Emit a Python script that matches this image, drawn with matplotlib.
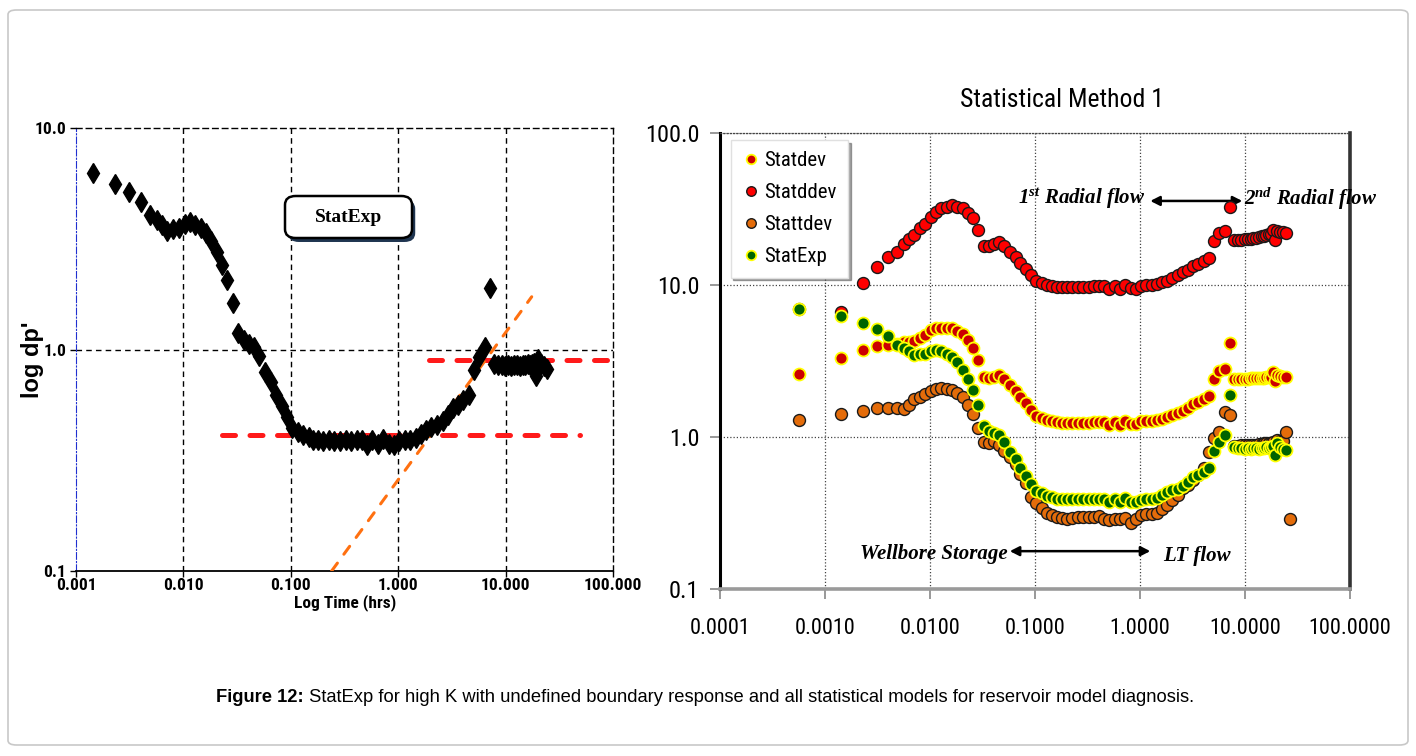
import numpy as np
import matplotlib
matplotlib.use('Agg')
import matplotlib.pyplot as plt
from matplotlib.patches import FancyBboxPatch
from matplotlib.ticker import FixedLocator, FixedFormatter, NullLocator

# fonts
NARROW = ['Roboto Condensed', 'Liberation Sans']
plt.rcParams['mathtext.fontset'] = 'custom'
plt.rcParams['mathtext.it'] = 'Liberation Serif:bold:italic'
plt.rcParams['mathtext.rm'] = 'Liberation Serif:bold:italic'
plt.rcParams['mathtext.bf'] = 'Liberation Serif:bold:italic'

#######################################
# Data
#######################################
time_hr = [
    0.00057, 0.00143, 0.00229, 0.00314, 0.00399, 0.00490, 0.00570, 0.00632, 0.00710, 0.00800,
    0.00905, 0.01025, 0.01140, 0.01280, 0.01445, 0.0162, 0.0182, 0.0204, 0.0229, 0.0257,
    0.0288, 0.0324, 0.0364, 0.0407, 0.0457, 0.0511, 0.0575, 0.0655, 0.0727, 0.0820,
    0.0920, 0.1027, 0.1157, 0.1305, 0.1466, 0.162, 0.180, 0.201, 0.227, 0.254,
    0.287, 0.324, 0.363, 0.411, 0.457, 0.509, 0.574, 0.644, 0.726, 0.821,
    0.914, 1.024, 1.149, 1.288, 1.455, 1.63, 1.82, 2.03, 2.28, 2.59,
    2.89, 3.22, 3.58, 4.04, 4.56, 5.11, 5.69, 6.43, 7.16, 7.8,
    8.5, 9.2, 9.9, 10.6, 11.3, 12.0, 12.8, 13.6, 14.4, 15.2,
    16.0, 16.8, 17.6, 18.4, 19.2, 20.0, 21.5, 23.0, 24.5, 26.6]

stat_exp = [
    7.0, 6.27, 5.6, 5.13, 4.64, 4.05, 3.83, 3.66, 3.44, 3.50,
    3.54, 3.68, 3.75, 3.66, 3.53, 3.35, 3.10, 2.76, 2.41, 2.05,
    1.62, 1.19, 1.10, 1.06, 1.03, 0.93, 0.795, 0.715, 0.623, 0.555,
    0.494, 0.444, 0.425, 0.410, 0.404, 0.392, 0.390, 0.388, 0.390, 0.388,
    0.388, 0.390, 0.388, 0.390, 0.390, 0.372, 0.390, 0.374, 0.395, 0.375,
    0.372, 0.386, 0.390, 0.392, 0.398, 0.417, 0.432, 0.447, 0.458, 0.475,
    0.504, 0.545, 0.560, 0.590, 0.625, 0.81, 0.925, 1.03, 1.90, 0.86,
    0.85, 0.85, 0.84, 0.85, 0.84, 0.85, 0.85, 0.84, 0.85, 0.85,
    0.86, 0.85, 0.86, 0.87, 0.76, 0.91, 0.86, 0.84, 0.82, np.nan]

stat_dev = [
    2.58, 3.30, 3.72, 3.97, 4.04, 4.09, 4.20, 4.24, 4.30, 4.46,
    4.69, 5.06, 5.19, 5.24, 5.24, 5.19, 5.00, 4.74, 4.33, 3.83,
    3.21, 2.48, 2.44, 2.48, 2.57, 2.39, 2.19, 2.01, 1.83, 1.67,
    1.50, 1.38, 1.34, 1.30, 1.28, 1.25, 1.24, 1.24, 1.245, 1.245,
    1.245, 1.245, 1.25, 1.26, 1.26, 1.20, 1.26, 1.20, 1.28, 1.21,
    1.21, 1.27, 1.27, 1.28, 1.29, 1.32, 1.36, 1.40, 1.43, 1.48,
    1.55, 1.64, 1.70, 1.79, 1.87, 2.40, 2.72, 2.79, 4.13, 2.40,
    2.41, 2.41, 2.42, 2.42, 2.43, 2.43, 2.44, 2.45, 2.45, 2.46,
    2.47, 2.48, 2.50, 2.69, 2.33, 2.56, 2.52, 2.50, 2.49, np.nan]

stat_ddev = [
    7.0, 6.67, 10.3, 13.2, 15.3, 16.5, 18.5, 20.1, 21.3, 23.6,
    25.2, 28.1, 30.3, 31.9, 32.7, 33.5, 32.7, 31.9, 29.9, 27.5,
    23.0, 18.1, 18.1, 18.5, 19.1, 18.1, 16.6, 15.3, 14.0, 12.7,
    11.6, 10.6, 10.3, 10.0, 9.85, 9.75, 9.75, 9.75, 9.75, 9.75,
    9.75, 9.75, 9.85, 9.85, 9.85, 9.42, 9.85, 9.42, 10.0, 9.5,
    9.42, 9.9, 10.0, 10.0, 10.15, 10.4, 10.6, 11.2, 11.6, 12.1,
    12.5, 13.3, 13.7, 14.4, 15.1, 19.5, 22.1, 22.7, 32.7, 19.8,
    19.8, 19.9, 20.0, 20.1, 20.2, 20.3, 20.5, 20.7, 20.9, 21.1,
    21.3, 21.5, 21.8, 23.0, 19.8, 22.5, 22.3, 22.2, 21.9, np.nan]

stat_tdev = [
    1.29, 1.42, 1.48, 1.56, 1.56, 1.56, 1.52, 1.63, 1.77, 1.84,
    1.92, 2.01, 2.08, 2.11, 2.08, 2.04, 1.96, 1.83, 1.63, 1.41,
    1.14, 0.93, 0.91, 0.94, 0.89, 0.81, 0.735, 0.66, 0.571, 0.495,
    0.405, 0.368, 0.340, 0.315, 0.307, 0.299, 0.292, 0.289, 0.292, 0.296,
    0.296, 0.296, 0.299, 0.302, 0.287, 0.284, 0.287, 0.287, 0.292, 0.270,
    0.287, 0.307, 0.311, 0.310, 0.318, 0.334, 0.357, 0.385, 0.415, 0.459,
    0.483, 0.521, 0.562, 0.622, 0.80, 0.98, 1.08, 1.47, 1.40, 0.87,
    0.87, 0.88, 0.88, 0.88, 0.89, 0.89, 0.89, 0.90, 0.90, 0.91,
    0.91, 0.92, 0.92, 0.93, 0.85, 0.95, 0.94, 0.94, 1.08, 0.29]

# straight-line fits drawn on the left panel
radial1_t = [0.0229, 49.0]
radial1_dp = [0.41, 0.41]
radial2_t = [1.95, 100.0]
radial2_dp = [0.90, 0.90]
wbs_t = [0.24, 17.5]
wbs_dp = [0.10, 1.73]

left_xticks = [0.001, 0.01, 0.1, 1, 10, 100]
left_xlabels = ['0.001', '0.010', '0.100', '1.000', '10.000', '100.000']
left_yticks = [0.1, 1, 10]
left_ylabels = ['0.1', '1.0', '10.0']
right_xticks = [0.0001, 0.001, 0.01, 0.1, 1, 10, 100]
right_xlabels = ['0.0001', '0.0010', '0.0100', '0.1000', '1.0000', '10.0000', '100.0000']
right_yticks = [0.1, 1, 10, 100]
right_ylabels = ['0.1', '1.0', '10.0', '100.0']

W, H = 1416., 756.

def box(x0, y0, x1, y1):
    # pixel box (top-left origin) -> figure fraction rect
    return [x0 / W, 1 - y1 / H, (x1 - x0) / W, (y1 - y0) / H]

fig = plt.figure(figsize=(W / 100, H / 100), dpi=100)
fig.patch.set_facecolor('white')

# outer rounded frame
fig.add_artist(FancyBboxPatch((8 / W, 11 / H), 1400 / W, 735 / H,
                              boxstyle='round,pad=0,rounding_size=0.006',
                              transform=fig.transFigure, fc='none',
                              ec='#c8c8c8', lw=1.2))

#######################################
# Left panel
#######################################
a = fig.add_axes(box(76, 128, 613, 571))
a.set_xscale('log')
a.set_yscale('log')
a.set_xlim(0.001, 100)
a.set_ylim(0.1, 10)

dash = (0, (4, 3))
for xv in left_xticks[1:-1]:
    a.axvline(xv, color='black', ls=dash, lw=1, zorder=1)
a.axhline(1.0, color='black', ls=dash, lw=1, zorder=1)
for s in ['top', 'right']:
    a.spines[s].set_linestyle(dash)
    a.spines[s].set_linewidth(1)
a.spines['left'].set_color('#2030d0')
a.spines['left'].set_linestyle((0, (6, 2, 1, 2)))
a.spines['left'].set_linewidth(0.8)
a.spines['bottom'].set_linewidth(1.3)

a.plot(time_hr, stat_exp, ls='none', marker='d', ms=10, color='black', zorder=4)

a.plot(radial1_t, radial1_dp, color='#ff1a1a', lw=3.6, ls=(0, (2.6, 2.9)),
       dash_capstyle='round', zorder=3)
a.plot(radial2_t, radial2_dp, color='#ff1a1a', lw=3.6, ls=(0, (2.6, 2.9)),
       dash_capstyle='round', zorder=3, clip_on=False)
a.plot(wbs_t, wbs_dp, color='#ff7010', lw=2.2, ls=(0, (3.2, 3.6)),
       dash_capstyle='round', zorder=3)

a.xaxis.set_major_locator(FixedLocator(left_xticks))
a.xaxis.set_major_formatter(FixedFormatter(left_xlabels))
a.yaxis.set_major_locator(FixedLocator(left_yticks))
a.yaxis.set_major_formatter(FixedFormatter(left_ylabels))
a.xaxis.set_minor_locator(NullLocator())
a.yaxis.set_minor_locator(NullLocator())
a.tick_params(axis='both', length=4, width=1)
a.tick_params(axis='x', pad=1)
a.tick_params(axis='y', pad=3)
for label in (a.get_xticklabels() + a.get_yticklabels()):
    label.set_family(NARROW)
    label.set_fontstretch('condensed')
    label.set_fontweight('bold')
    label.set_fontsize(12.5)

fig.text(345 / W, 1 - 603 / H, 'Log Time (hrs)', ha='center', va='center',
         family=NARROW, fontstretch='condensed', fontweight='bold', fontsize=12.5)
fig.text(33 / W, 1 - 360 / H, "log dp'", ha='center', va='center', rotation=90,
         family='Liberation Sans', fontweight='bold', fontsize=17)

# StatExp label box with shadow
bx0, by0, bw, bh = (285 - 76) / 537., 1 - (238 - 128) / 443., 127 / 537., 42 / 443.
a.add_patch(FancyBboxPatch((bx0 + 0.006, by0 - 0.009), bw, bh,
                           boxstyle='round,pad=0,rounding_size=0.02',
                           transform=a.transAxes, fc='#1f3550', ec='none', zorder=5))
a.add_patch(FancyBboxPatch((bx0, by0), bw, bh,
                           boxstyle='round,pad=0,rounding_size=0.02',
                           transform=a.transAxes, fc='white', ec='black', lw=1.8, zorder=6))
a.text(bx0 + bw / 2, by0 + bh / 2, 'StatExp', transform=a.transAxes, ha='center',
       va='center', family='Liberation Serif', fontweight='bold', fontsize=14, zorder=7)

#######################################
# Right panel
#######################################
b = fig.add_axes(box(720, 133, 1350, 589))
b.set_xscale('log')
b.set_yscale('log')
b.set_xlim(0.0001, 100)
b.set_ylim(0.1, 100)

b.grid(True, which='major', color='#444444', ls=(0, (1, 1.6)), lw=0.9, zorder=0)
b.spines['top'].set_linestyle((0, (1, 1.6)))
b.spines['top'].set_linewidth(0.9)
b.spines['top'].set_color('#444444')
b.spines['left'].set_linewidth(2.2)
b.spines['right'].set_linewidth(2.6)
b.spines['right'].set_color('#333333')
b.spines['bottom'].set_linewidth(2.6)
b.spines['bottom'].set_color('#9a9a9a')

ms = 8.6
b.plot(time_hr, stat_dev, ls='none', marker='o', ms=ms, mfc='#cc0000', mec='#ffff00',
       mew=1.3, label='Statdev', zorder=3)
b.plot(time_hr, stat_ddev, ls='none', marker='o', ms=ms, mfc='#ff0000', mec='#1a1a1a',
       mew=1.0, label='Statddev', zorder=4)
b.plot(time_hr, stat_tdev, ls='none', marker='o', ms=ms, mfc='#e46c0a', mec='#1a1a1a',
       mew=1.0, label='Stattdev', zorder=5)
b.plot(time_hr, stat_exp, ls='none', marker='o', ms=ms, mfc='#006400', mec='#ffff00',
       mew=1.3, label='StatExp', zorder=6)

b.xaxis.set_major_locator(FixedLocator(right_xticks))
b.xaxis.set_major_formatter(FixedFormatter(right_xlabels))
b.yaxis.set_major_locator(FixedLocator(right_yticks))
b.yaxis.set_major_formatter(FixedFormatter(right_ylabels))
b.xaxis.set_minor_locator(NullLocator())
b.yaxis.set_minor_locator(NullLocator())
b.tick_params(axis='both', length=7, width=1.2, color='#888888', direction='out')
b.tick_params(axis='x', pad=14)
b.tick_params(axis='y', pad=8)
for label in b.get_xticklabels():
    label.set_family(NARROW)
    label.set_fontstretch('condensed')
    label.set_fontsize(16)
for label in b.get_yticklabels():
    label.set_family(NARROW)
    label.set_fontstretch('condensed')
    label.set_fontsize(17.5)

leg = b.legend(loc='upper left', bbox_to_anchor=(0.017, 0.985), borderaxespad=0,
               prop={'family': NARROW, 'stretch': 'condensed', 'size': 15},
               markerscale=0.8, handletextpad=0.25, handlelength=0.8, labelspacing=0.62,
               borderpad=0.55, frameon=True, fancybox=False, shadow=True, framealpha=1)
leg.get_frame().set_edgecolor('#e0e0e0')
leg.set_zorder(10)

fig.text(1062 / W, 1 - 100 / H, 'Statistical Method 1', ha='center', va='center',
         family=NARROW, fontstretch='condensed', fontsize=18.5)

# flow regime annotations
ann = dict(family='Liberation Serif', fontweight='bold', fontstyle='italic', fontsize=15)
b.text(0.473, 0.855, r'1$^{st}$ Radial flow', transform=b.transAxes, ha='left',
       va='center', **ann)
b.text(0.832, 0.855, r'2$^{nd}$ Radial flow', transform=b.transAxes, ha='left',
       va='center', clip_on=False, **ann)
b.text(0.457, 0.077, 'Wellbore Storage', transform=b.transAxes, ha='right',
       va='center', **ann)
b.text(0.703, 0.073, 'LT flow', transform=b.transAxes, ha='left', va='center', **ann)
arrow = dict(arrowstyle='<|-|>,head_length=0.55,head_width=0.28', color='black', lw=1.8,
             shrinkA=0, shrinkB=0)
b.annotate('', xy=(0.683, 0.851), xytext=(0.829, 0.851), xycoords='axes fraction',
           textcoords='axes fraction', arrowprops=arrow)
b.annotate('', xy=(0.460, 0.083), xytext=(0.683, 0.083), xycoords='axes fraction',
           textcoords='axes fraction', arrowprops=arrow)

#######################################
# Caption
#######################################
t1 = fig.text(216 / W, 1 - 697 / H, 'Figure 12:', ha='left', va='center',
              family='Liberation Sans', fontweight='bold', fontsize=13.2)
cap = fig.add_axes([0, 0, 1, 1], zorder=-5)
cap.axis('off')
cap.annotate(' StatExp for high K with undefined boundary response and all statistical '
             'models for reservoir model diagnosis.', xy=(1, 0.5), xycoords=t1,
             ha='left', va='center', family='Liberation Sans', fontsize=13.2)

plt.savefig('out.png', dpi=100, facecolor='white')
